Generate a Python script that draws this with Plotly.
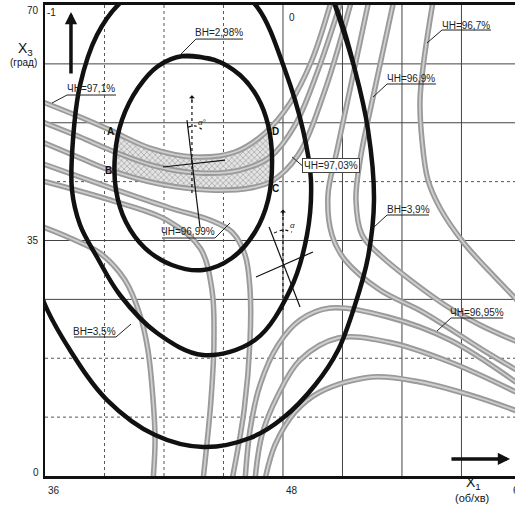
import plotly.graph_objects as go

# ---------------- data (axis units: X1 rpm, X3 degrees) ----------------
# grey contours ЧН (efficiency)
u1_x = [35.50, 37.77, 39.28, 41.29, 43.56, 45.58, 47.09, 48.36, 49.46, 50.52]
u1_y = [56.03, 53.35, 51.42, 48.74, 47.41, 48.15, 50.97, 55.43, 61.82, 71.48]
u2_x = [35.50, 37.77, 39.28, 41.55, 43.82, 45.83, 47.35, 48.61, 49.77, 51.03]
u2_y = [53.05, 50.38, 48.45, 46.07, 45.03, 45.47, 47.41, 52.16, 60.34, 71.48]
u3_x = [35.50, 37.77, 39.13, 41.80, 44.32, 46.34, 47.45, 48.76, 50.12, 51.53]
u3_y = [50.08, 47.26, 45.62, 43.39, 42.50, 42.80, 43.84, 47.70, 57.36, 71.48]
b3_x = [35.50, 39.63, 42.30, 44.32, 45.43, 46.09, 46.34, 46.34, 46.04, 45.43]
b3_y = [46.81, 42.50, 39.83, 38.04, 36.26, 32.84, 27.64, 20.21, 9.81, -0.59]
b2_x = [35.50, 39.28, 42.15, 43.82, 44.42, 44.52, 44.37, 43.97]
b2_y = [44.14, 41.02, 38.04, 33.88, 27.64, 20.21, 11.29, -0.59]
b1_x = [35.50, 37.26, 38.77, 40.03, 40.79, 41.19, 41.45, 41.55, 41.45]
b1_y = [37.45, 35.37, 33.14, 29.13, 23.93, 18.72, 11.29, 5.35, -0.59]
h1_x = [47.09, 47.60, 48.61, 49.87, 52.49, 54.91, 57.43, 59.95]
h1_y = [-0.59, 4.61, 9.51, 12.48, 14.71, 13.97, 12.04, 9.51]
h2_x = [46.09, 46.34, 46.84, 47.75, 48.86, 50.37, 53.30, 56.42, 59.95]
h2_y = [-0.59, 6.84, 13.52, 19.47, 23.18, 24.97, 23.63, 20.21, 13.52]
h3_x = [46.59, 46.94, 47.75, 48.86, 50.78, 53.30, 56.42, 59.95]
h3_y = [-0.59, 6.09, 12.04, 17.24, 20.51, 19.91, 16.94, 12.19]
r1_x = [52.39, 51.48, 50.73, 50.27, 50.47, 51.13, 52.89, 55.06, 58.09, 59.95]
r1_y = [71.48, 58.85, 48.45, 41.76, 35.82, 32.10, 27.64, 24.37, 18.72, 15.46]
r2_x = [53.65, 52.54, 51.89, 51.68, 51.99, 52.89, 56.17, 57.94, 59.95]
r2_y = [71.48, 56.32, 46.96, 41.02, 35.82, 32.84, 25.41, 22.44, 19.77]
r3_x = [55.62, 55.11, 54.91, 55.01, 55.31, 55.92, 57.08, 58.44, 59.95]
r3_y = [71.48, 61.82, 55.88, 49.93, 43.99, 39.83, 34.78, 30.32, 25.71]

# black contours ВН
e1_x = [42.96, 44.57, 45.83, 46.74, 47.25, 47.45, 47.25, 46.59, 45.43, 43.97, 42.40,
        41.04, 40.08, 39.58, 39.53, 39.88, 40.69, 41.70, 42.96, 44.57]
e1_y = [62.42, 61.82, 59.59, 56.17, 52.16, 46.96, 41.02, 36.26, 32.40, 30.61, 31.36,
        33.88, 37.75, 42.50, 47.70, 52.90, 57.66, 60.93, 62.42, 61.82]
e2_x = [43.06, 45.33, 46.74, 48.10, 49.01, 49.41, 49.21, 48.36, 46.59, 43.97, 41.65,
        39.78, 38.62, 37.77, 37.36, 37.41, 37.77, 38.62, 39.78, 41.29, 43.06, 45.33]
e2_y = [74.01, 72.97, 69.55, 60.34, 51.42, 43.99, 35.82, 27.64, 20.21, 17.98, 21.25,
        26.90, 32.55, 37.30, 42.50, 49.93, 58.11, 65.54, 70.29, 73.26, 74.01, 72.97]
e3_x = [50.62, 51.63, 52.29, 52.59, 52.29, 51.63, 50.78, 49.62, 48.00, 46.34, 43.97,
        41.55, 39.13, 37.26, 35.90, 35.14, 34.84, 34.84, 35.09, 35.60, 36.76, 39.28,
        43.82, 47.85, 49.62, 50.62, 51.63]
e3_y = [69.99, 60.34, 51.42, 41.02, 32.55, 25.41, 18.72, 13.52, 8.62, 5.65, 4.31,
        6.09, 11.29, 18.72, 26.16, 35.08, 43.99, 52.90, 61.82, 69.25, 75.94, 79.66,
        81.15, 78.91, 74.45, 69.99, 60.34]

# hatched compromise zone ABCD
hatch_x = [39.78, 41.29, 43.56, 45.58, 46.94, 47.25, 47.40, 47.45, 47.35, 46.34, 44.32,
           41.80, 39.58, 39.53, 39.63, 39.78]
hatch_y = [50.82, 48.74, 47.41, 48.15, 50.53, 51.27, 48.45, 46.22, 43.54, 42.80, 42.50,
           43.39, 45.17, 47.70, 49.93, 50.82]

grid_x_dotted = [39, 42, 45]
grid_x_solid = [48, 51, 54, 57]
grid_y_dotted = [8.75, 17.5, 43.75]
grid_y_solid = [26.25, 35, 52.5, 61.25]

x_tick_vals = [36, 48, 60]
x_tick_text = ["36", "48", "60"]
y_tick_vals = [70, 35, 0]
y_tick_text = ["70", "35", "0"]

X_MIN, X_MAX = 36, 59.70
Y_MIN, Y_MAX = 0, 70

# label: text, text x, text y, underline x0, x1, y, leader end x, y, attach side
labels = [
    ("ВН=2,98%", 44.77, 65.84, 43.61, 45.98, 64.94, 42.86, 62.71, "l"),
    ("ЧН=97,1%", 38.32, 57.66, 37.11, 39.58, 56.62, 36.35, 55.43, "l"),
    ("ЧН=96,7%", 57.23, 67.02, 56.02, 58.49, 66.28, 55.26, 64.35, "l"),
    ("ЧН=96,9%", 54.46, 59.15, 53.25, 55.72, 58.26, 52.54, 56.32, "l"),
    ("ЧН=96,99%", 43.21, 36.41, 41.90, 44.57, 35.37, 45.33, 37.60, "r"),
    ("ВН=3,9%", 54.31, 39.68, 53.25, 55.36, 38.79, 52.54, 36.86, "l"),
    ("ЧН=96,95%", 57.79, 24.37, 56.47, 59.10, 23.48, 55.77, 21.55, "l"),
    ("ВН=3,5%", 38.52, 21.55, 37.46, 39.58, 20.66, 40.34, 22.59, "r"),
]

FONT = "Liberation Sans"
fig = go.Figure()


def px(v):
    return (v - X_MIN) / (X_MAX - X_MIN)


def py(v):
    return (v - Y_MIN) / (Y_MAX - Y_MIN)


# grid
for gx in grid_x_dotted:
    fig.add_shape(type="line", x0=gx, x1=gx, y0=0, y1=70, xref="x", yref="y",
                  line=dict(color="#555", width=1, dash="dot"), layer="below")
for gx in grid_x_solid:
    fig.add_shape(type="line", x0=gx, x1=gx, y0=0, y1=70, xref="x", yref="y",
                  line=dict(color="#444", width=1), layer="below")
for gy in grid_y_dotted:
    fig.add_shape(type="line", x0=36, x1=60, y0=gy, y1=gy, xref="x", yref="y",
                  line=dict(color="#555", width=1, dash="dot"), layer="below")
for gy in grid_y_solid:
    fig.add_shape(type="line", x0=36, x1=60, y0=gy, y1=gy, xref="x", yref="y",
                  line=dict(color="#444", width=1), layer="below")

# hatched area
fig.add_trace(go.Scatter(x=hatch_x, y=hatch_y, mode="lines", fill="toself",
                         line=dict(width=0, color="rgba(0,0,0,0)"),
                         fillcolor="rgba(255,255,255,0)",
                         fillpattern=dict(shape="x", fgcolor="#6a6a6a", bgcolor="#e4e4e4",
                                          size=4, solidity=0.35),
                         hoverinfo="skip", showlegend=False))

grey_curves = [(u1_x, u1_y), (u2_x, u2_y), (u3_x, u3_y), (b1_x, b1_y), (b2_x, b2_y),
               (b3_x, b3_y), (h1_x, h1_y), (h2_x, h2_y), (h3_x, h3_y),
               (r1_x, r1_y), (r2_x, r2_y), (r3_x, r3_y)]
for cx, cy in grey_curves:
    fig.add_trace(go.Scatter(x=cx, y=cy, mode="lines", line=dict(color="#9a9a9a", width=5.5, shape="spline"),
                             hoverinfo="skip", showlegend=False))
    fig.add_trace(go.Scatter(x=cx, y=cy, mode="lines", line=dict(color="#cfcfcf", width=1.8, shape="spline"),
                             hoverinfo="skip", showlegend=False))

for cx, cy in [(e1_x, e1_y), (e2_x, e2_y), (e3_x, e3_y)]:
    fig.add_trace(go.Scatter(x=cx, y=cy, mode="lines", line=dict(color="#111", width=4.5, shape="spline"),
                             hoverinfo="skip", showlegend=False))

# alpha constructions
thin = [
    ([43.16, 43.82], [52.90, 36.86], "solid"),
    ([41.95, 45.08], [45.92, 46.96], "solid"),
    ([43.41, 43.41], [42.06, 56.17], "dot"),
    ([43.21, 43.61, 44.02], [51.86, 52.01, 51.27], "dot"),
    ([47.30, 48.86], [37.00, 25.12], "solid"),
    ([46.64, 49.51], [29.57, 33.29], "solid"),
    ([48.00, 48.00], [24.67, 39.23], "dot"),
    ([47.55, 48.00, 48.46], [36.11, 36.56, 36.26], "dot"),
]
for tx, ty, d in thin:
    fig.add_trace(go.Scatter(x=tx, y=ty, mode="lines",
                             line=dict(color="#111", width=1.2, dash=d, shape="spline"),
                             hoverinfo="skip", showlegend=False))

# label leaders and underlines
ann = []
for t, tx, ty, ux0, ux1, uy, lx, ly, side in labels:
    if side == "l":
        lxs, lys = [lx, ux0, ux1], [ly, uy, uy]
    else:
        lxs, lys = [ux0, ux1, lx], [uy, uy, ly]
    fig.add_trace(go.Scatter(x=lxs, y=lys, mode="lines", line=dict(color="#222", width=1),
                             hoverinfo="skip", showlegend=False))
    ann.append(dict(x=tx, y=ty, text=t, showarrow=False, xref="x", yref="y",
                    font=dict(family=FONT, size=10, color="#222")))

# boxed label
fig.add_trace(go.Scatter(x=[49.11, 48.46], y=[45.77, 47.41], mode="lines",
                         line=dict(color="#222", width=1), hoverinfo="skip", showlegend=False))
ann.append(dict(x=50.42, y=46.2, text="ЧН=97,03%", showarrow=False, xref="x", yref="y",
                bgcolor="white", bordercolor="#444", borderwidth=1, borderpad=1,
                font=dict(family=FONT, size=10, color="#222")))

for t, tx, ty in [("A", 39.28, 51.27), ("B", 39.18, 45.33), ("D", 47.62, 51.27), ("C", 47.62, 42.80)]:
    ann.append(dict(x=tx, y=ty, text="<b>" + t + "</b>", showarrow=False, xref="x", yref="y",
                    font=dict(family=FONT, size=10, color="#111")))

ann.append(dict(x=43.95, y=52.6, text="<i>α°</i>", showarrow=False, xref="x", yref="y",
                font=dict(family=FONT, size=8, color="#222")))
ann.append(dict(x=48.50, y=37.2, text="<i>α</i>", showarrow=False, xref="x", yref="y",
                font=dict(family=FONT, size=8, color="#222")))

# small heads of dotted arrows
for hx, hy in [(43.41, 56.6), (48.00, 39.6)]:
    ann.append(dict(x=hx, y=hy, ax=hx, ay=hy - 1.2, xref="x", yref="y", axref="x", ayref="y",
                    text="", showarrow=True, arrowhead=1, arrowsize=1, arrowwidth=1, arrowcolor="#111"))

# thick axis-direction arrows
ann.append(dict(x=37.31, y=68.95, ax=37.31, ay=59.59, xref="x", yref="y", axref="x", ayref="y",
                text="", showarrow=True, arrowhead=2, arrowsize=0.7, arrowwidth=3.5, arrowcolor="#111"))
ann.append(dict(x=59.45, y=2.53, ax=56.42, ay=2.53, xref="x", yref="y", axref="x", ayref="y",
                text="", showarrow=True, arrowhead=2, arrowsize=0.7, arrowwidth=3.5, arrowcolor="#111"))

# tick labels (paper coords so they are not hidden outside the axis ranges)
for v, t in zip(x_tick_vals, x_tick_text):
    xv = min(px(v), 0.99)
    ann.append(dict(x=xv, y=py(-2.1), text=t, showarrow=False, xref="paper", yref="paper",
                    xanchor="left", yanchor="middle", xshift=1,
                    font=dict(family=FONT, size=10, color="#222")))
for v, t in zip(y_tick_vals, y_tick_text):
    ann.append(dict(x=0, y=py(v), text=t, showarrow=False, xref="paper", yref="paper",
                    xanchor="right", yanchor="middle",
                    xshift=-4, yshift=(-5 if v == 70 else (4 if v == 0 else 0)),
                    font=dict(family=FONT, size=10, color="#222")))
ann.append(dict(x=36.35, y=68.9, text="-1", showarrow=False, xref="x", yref="y",
                font=dict(family=FONT, size=10, color="#222")))
ann.append(dict(x=48.46, y=68.2, text="0", showarrow=False, xref="x", yref="y",
                font=dict(family=FONT, size=10, color="#222")))

# axis titles
ann.append(dict(x=px(35.04), y=py(63.4), text="X<sub>3</sub>", showarrow=False, xref="paper", yref="paper",
                xanchor="center", yanchor="middle", font=dict(family=FONT, size=14, color="#111")))
ann.append(dict(x=px(34.94), y=py(61.5), text="(град)", showarrow=False, xref="paper", yref="paper",
                xanchor="center", yanchor="middle", font=dict(family=FONT, size=10, color="#111")))
ann.append(dict(x=px(57.63), y=py(-1.0), text="X<sub>1</sub>", showarrow=False, xref="paper", yref="paper",
                xanchor="center", yanchor="middle", font=dict(family=FONT, size=14, color="#111")))
ann.append(dict(x=px(57.53), y=py(-3.2), text="(об/хв)", showarrow=False, xref="paper", yref="paper",
                xanchor="center", yanchor="middle", font=dict(family=FONT, size=11, color="#111")))

fig.update_layout(
    width=515, height=506,
    margin=dict(l=45, r=0, t=5, b=30),
    paper_bgcolor="white", plot_bgcolor="white",
    showlegend=False,
    annotations=ann,
    xaxis=dict(range=[X_MIN, X_MAX], showgrid=False, zeroline=False, showticklabels=False,
               ticks="", showline=True, linewidth=3, linecolor="#111", mirror=True,
               fixedrange=True),
    yaxis=dict(range=[Y_MIN, Y_MAX], showgrid=False, zeroline=False, showticklabels=False,
               ticks="", showline=True, linewidth=2, linecolor="#111", fixedrange=True),
)

fig.write_html("out.html", config={"displayModeBar": False},
               post_script="document.body.style.margin='0px';document.body.style.overflow='hidden';")
